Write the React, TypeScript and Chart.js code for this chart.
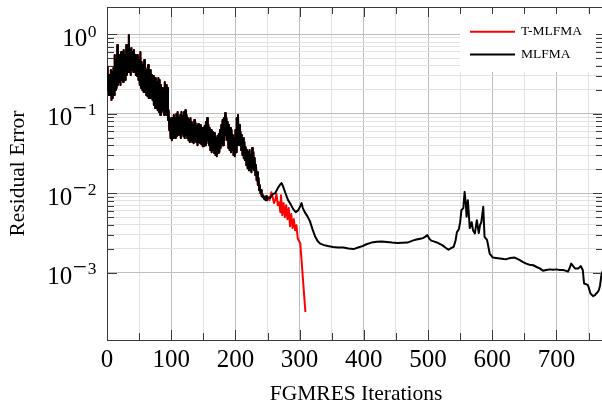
import React, { useEffect, useRef } from "react";
import { Chart, registerables } from "chart.js";

Chart.register(...registerables);

// Residual per iteration, iterations 0..249 (both solvers coincide here)
const mlfmaEarly = [
  0.388, 0.199, 0.266, 0.172, 0.307, 0.172, 0.355, 0.149, 0.335, 0.158,
  0.376, 0.172, 0.548, 0.199, 0.475, 0.211, 0.733, 0.230, 0.475, 0.251,
  0.548, 0.230, 0.598, 0.266, 0.503, 0.251, 0.634, 0.282, 0.548, 0.266,
  0.733, 0.307, 0.634, 0.335, 0.980, 0.355, 0.634, 0.307, 0.672, 0.355,
  0.598, 0.335, 0.634, 0.376, 0.548, 0.307, 0.503, 0.298, 0.548, 0.266,
  0.475, 0.230, 0.598, 0.211, 0.448, 0.199, 0.411, 0.188, 0.475, 0.188,
  0.376, 0.172, 0.355, 0.167, 0.411, 0.158, 0.335, 0.158, 0.355, 0.167,
  0.307, 0.149, 0.298, 0.129, 0.266, 0.118, 0.282, 0.129, 0.251, 0.111,
  0.282, 0.105, 0.266, 0.0963, 0.230, 0.105, 0.211, 0.111, 0.199, 0.0963,
  0.251, 0.105, 0.230, 0.0963, 0.211, 0.0833, 0.111, 0.0623, 0.0833, 0.0494,
  0.0883, 0.0466, 0.0833, 0.0494, 0.0963, 0.0539, 0.0883, 0.0494, 0.0991, 0.0524,
  0.105, 0.0539, 0.0883, 0.0588, 0.0963, 0.0494, 0.105, 0.0555, 0.0935, 0.0524,
  0.105, 0.0494, 0.111, 0.0539, 0.0963, 0.0494, 0.0883, 0.0466, 0.0833, 0.0440,
  0.0883, 0.0466, 0.0786, 0.0440, 0.0721, 0.0427, 0.0833, 0.0466, 0.0764, 0.0440,
  0.0700, 0.0403, 0.0742, 0.0440, 0.0680, 0.0427, 0.0721, 0.0415, 0.0661, 0.0391,
  0.0661, 0.0391, 0.0700, 0.0403, 0.0786, 0.0427, 0.0883, 0.0466, 0.0721, 0.0403,
  0.0661, 0.0349, 0.0623, 0.0329, 0.0588, 0.0349, 0.0539, 0.0320, 0.0571, 0.0302,
  0.0494, 0.0293, 0.0524, 0.0320, 0.0555, 0.0329, 0.0623, 0.0370, 0.0721, 0.0403,
  0.0833, 0.0403, 0.0883, 0.0466, 0.102, 0.0539, 0.0883, 0.0466, 0.0786, 0.0370,
  0.0721, 0.0349, 0.0661, 0.0329, 0.0623, 0.0349, 0.0539, 0.0302, 0.0494, 0.0293,
  0.0623, 0.0329, 0.0883, 0.0403, 0.0963, 0.0466, 0.0721, 0.0403, 0.0588, 0.0349,
  0.0539, 0.0302, 0.0494, 0.0276, 0.0440, 0.0261, 0.0380, 0.0226, 0.0349, 0.0207,
  0.0329, 0.0195, 0.0349, 0.0195, 0.0302, 0.0184, 0.0370, 0.0207, 0.0329, 0.0195,
  0.0277, 0.0169, 0.0226, 0.0146, 0.0184, 0.0127, 0.0155, 0.0109, 0.0127, 0.0100,
  0.0109, 0.00919, 0.00974, 0.00892, 0.00919, 0.00842, 0.00892, 0.00818, 0.00919, 0.00818,
];

// MLFMA, iterations 250..772
const mlfmaIter = [
  250, 254, 258, 262, 266, 270, 272, 274, 278, 282, 286, 290, 294, 298, 301, 303, 305, 308,
  312, 316, 320, 324, 328, 332, 338, 344, 352, 360, 368, 376, 384, 391, 398, 404, 412, 420,
  428, 436, 444, 452, 460, 468, 476, 482, 488, 492, 496, 499, 502, 505, 510, 516, 522, 528,
  532, 536, 540, 543, 545, 548, 550, 552, 555, 557, 559, 560, 562, 565, 568, 570, 573, 576,
  579, 581, 583, 586, 588, 592, 596, 601, 606, 612, 618, 622, 628, 635, 640, 643, 648, 653,
  658, 664, 670, 674, 679, 684, 690, 695, 700, 705, 710, 714, 718, 721, 723, 726, 729, 734,
  738, 741, 743, 746, 749, 751, 753, 757, 760, 762, 764, 766, 768, 770, 772,
];
const mlfmaRes = [
  0.00892, 0.0087, 0.00974, 0.01, 0.0116, 0.013, 0.0134, 0.0123, 0.01, 0.00818, 0.00729, 0.00631,
  0.00578, 0.00613, 0.00688, 0.00751, 0.0065, 0.00578,
  0.00515, 0.00445, 0.00353, 0.00288, 0.0025, 0.00232, 0.00222, 0.00216, 0.00211, 0.00207, 0.00207,
  0.00201, 0.00198, 0.00207, 0.00216, 0.00228, 0.00239, 0.00245,
  0.00246, 0.00243, 0.00239, 0.00236, 0.00238, 0.00239, 0.00253, 0.00261, 0.00268, 0.00272, 0.00284,
  0.00297, 0.00268, 0.00253, 0.00246, 0.00236, 0.00222, 0.00204,
  0.00195, 0.00204, 0.00212, 0.00257, 0.00323, 0.00353, 0.00432, 0.00613, 0.0065, 0.0104, 0.00708,
  0.00505, 0.00818, 0.00364, 0.00432, 0.00343, 0.00312, 0.00458,
  0.00315, 0.00396, 0.00432, 0.00674, 0.00283, 0.00257, 0.00174, 0.00155, 0.00153, 0.00151, 0.00149,
  0.00148, 0.00153, 0.00155, 0.00148, 0.00144, 0.00136, 0.0013,
  0.00126, 0.00124, 0.00117, 0.00113, 0.00106, 0.00108, 0.0011, 0.00109, 0.0011, 0.00108, 0.00108,
  0.00106, 0.00103, 0.00117, 0.0013, 0.00121, 0.00113, 0.00113,
  0.00121, 0.00108, 0.000731, 0.000716, 0.000696, 0.00062, 0.000547, 0.000506, 0.000521, 0.000547,
  0.000568, 0.000602, 0.000696, 0.00093, 0.00105,
];

// T-MLFMA, iterations 250..309
const tmlfmaIter = [
  250, 253, 256, 258, 260, 262, 264, 266, 268, 270, 271, 273, 275, 277, 279, 281, 283, 285,
  287, 289, 291, 293, 295, 297, 299, 301, 309,
];
const tmlfmaRes = [
  0.00892, 0.00818, 0.0103, 0.00892, 0.00751, 0.00818, 0.00974, 0.00708, 0.00771, 0.00578, 0.00946,
  0.0053, 0.00751, 0.005, 0.00708, 0.00472, 0.0065, 0.00385,
  0.00546, 0.00364, 0.00472, 0.00343, 0.00396, 0.00272, 0.0025, 0.00235, 0.00032,
];

const seriesLabels = ["T-MLFMA", "MLFMA"];
const seriesColors = ["#ff0000", "#000000"];
const xTickValues = [0, 50, 100, 150, 200, 250, 300, 350, 400, 450, 500, 550, 600, 650, 700, 750];
const xLabelValues = [0, 100, 200, 300, 400, 500, 600, 700];
const yExponents = [0, -1, -2, -3];
const xTitle = "FGMRES Iterations";
const yTitle = "Residual Error";

const SERIF = '"Liberation Serif", "Times New Roman", "DejaVu Serif", serif';
const f = (s: number) => `${s}px ${SERIF}`;

const yTickValues: number[] = [];
for (const e of [-3, -2, -1]) {
  for (let m = 1; m <= 9; m++) yTickValues.push(m * Math.pow(10, e));
}
yTickValues.push(1);

const isDecade = (v: number) => {
  const l = Math.log10(v);
  return Math.abs(l - Math.round(l)) < 1e-9;
};

const MAJOR_GRID = "#bdbdbd";
const MINOR_GRID = "#e2e2e2";
const AXIS = "#3a3a3a";

const pgfPlugin = {
  id: "pgfAxis",
  beforeDatasetsDraw(chart: any) {
    const { ctx, chartArea } = chart;
    const { left, right, top, bottom } = chartArea;
    const xs = chart.scales.x;
    const ys = chart.scales.y;
    ctx.save();
    ctx.strokeStyle = AXIS;
    ctx.lineWidth = 1;
    ctx.beginPath();
    for (const v of xTickValues) {
      const px = Math.round(xs.getPixelForValue(v)) + 0.5;
      const len = v % 100 === 0 ? 10 : 7;
      ctx.moveTo(px, bottom);
      ctx.lineTo(px, bottom - len);
      ctx.moveTo(px, top);
      ctx.lineTo(px, top + len);
    }
    for (const v of yTickValues) {
      const py = Math.round(ys.getPixelForValue(v)) + 0.5;
      const len = isDecade(v) ? 10 : 7;
      ctx.moveTo(left, py);
      ctx.lineTo(left + len, py);
      ctx.moveTo(right, py);
      ctx.lineTo(right - len, py);
    }
    ctx.stroke();
    ctx.strokeRect(Math.round(left) + 0.5, Math.round(top) + 0.5, Math.round(right - left), Math.round(bottom - top));
    ctx.restore();
  },
  afterDraw(chart: any) {
    const { ctx, chartArea } = chart;
    const { left, right, top, bottom } = chartArea;
    const xs = chart.scales.x;
    const ys = chart.scales.y;
    ctx.save();
    ctx.fillStyle = "#000";
    ctx.textBaseline = "alphabetic";

    // x labels
    ctx.font = f(25);
    ctx.textAlign = "center";
    for (const v of xLabelValues) {
      ctx.fillText(String(v), xs.getPixelForValue(v), bottom + 27);
    }
    // x title
    ctx.font = f(21.5);
    ctx.fillText(xTitle, (left + right) / 2 + 1, bottom + 59.5);

    // y labels 10^e
    const expRight = left - 10.5;
    for (const e of yExponents) {
      const py = ys.getPixelForValue(Math.pow(10, e));
      ctx.textAlign = "right";
      ctx.font = f(17.5);
      const digits = String(Math.abs(e));
      ctx.fillText(digits, expRight, py + (e === 0 ? 3 : 1.5));
      let cursor = expRight - ctx.measureText(digits).width;
      if (e < 0) {
        ctx.font = f(25);
        ctx.fillText("\u2212", cursor - 1, py + 2.5);
        cursor -= 1 + ctx.measureText("\u2212").width;
      }
      ctx.font = f(25);
      ctx.fillText("10", cursor - 0.5, py + 11.7);
    }

    // y title
    ctx.save();
    ctx.translate(24, (top + bottom) / 2);
    ctx.rotate(-Math.PI / 2);
    ctx.textAlign = "center";
    ctx.font = f(21.5);
    ctx.fillText(yTitle, 0, 0);
    ctx.restore();

    // legend
    const bx0 = right - 143;
    const bx1 = right - 7;
    const by0 = top + 7;
    const by1 = top + 65;
    ctx.fillStyle = "#ffffff";
    ctx.fillRect(bx0, by0, bx1 - bx0, by1 - by0);
    const rows = [top + 24.8, top + 47.5];
    seriesLabels.forEach((lab, i) => {
      ctx.strokeStyle = seriesColors[i];
      ctx.lineWidth = 2;
      ctx.beginPath();
      ctx.moveTo(bx0 + 10, rows[i]);
      ctx.lineTo(bx0 + 55, rows[i]);
      ctx.stroke();
      ctx.fillStyle = "#000";
      ctx.font = f(13.5);
      ctx.textAlign = "left";
      ctx.fillText(lab, bx0 + 61, rows[i] + 3);
    });
    ctx.restore();
  },
};

export default function App() {
  const ref = useRef<HTMLCanvasElement | null>(null);
  useEffect(() => {
    if (!ref.current) return;
    const black = mlfmaEarly
      .map((v, i) => ({ x: i, y: v }))
      .concat(mlfmaIter.map((x, i) => ({ x, y: mlfmaRes[i] })));
    const red = mlfmaEarly
      .map((v, i) => ({ x: i, y: v }))
      .concat(tmlfmaIter.map((x, i) => ({ x, y: tmlfmaRes[i] })));
    const chart = new Chart(ref.current, {
      type: "line",
      data: {
        datasets: [
          {
            label: seriesLabels[1],
            data: black,
            borderColor: seriesColors[1],
            borderWidth: 2,
            pointRadius: 0,
            tension: 0,
            borderJoinStyle: "round",
            order: 0,
          },
          {
            label: seriesLabels[0],
            data: red,
            borderColor: seriesColors[0],
            borderWidth: 2,
            pointRadius: 0,
            tension: 0,
            borderJoinStyle: "round",
            order: 1,
          },
        ],
      },
      options: {
        animation: false,
        responsive: false,
        devicePixelRatio: 1,
        events: [],
        layout: { padding: { left: 107, top: 7, right: 7, bottom: 67 } },
        plugins: { legend: { display: false }, tooltip: { enabled: false } },
        scales: {
          x: {
            type: "linear",
            min: 0,
            max: 772.5,
            ticks: { display: false },
            border: { display: false },
            grid: {
              drawTicks: false,
              lineWidth: 1,
              color: (c: any) => (c.tick && c.tick.value % 100 === 0 ? MAJOR_GRID : MINOR_GRID),
            },
            afterBuildTicks: (s: any) => {
              s.ticks = xTickValues.map((v) => ({ value: v }));
            },
          },
          y: {
            type: "logarithmic",
            min: 1.42e-4,
            max: 2.21,
            ticks: { display: false },
            border: { display: false },
            grid: {
              drawTicks: false,
              lineWidth: 1,
              color: (c: any) => (c.tick && isDecade(c.tick.value) ? MAJOR_GRID : MINOR_GRID),
            },
            afterBuildTicks: (s: any) => {
              s.ticks = yTickValues.map((v) => ({ value: v }));
            },
          },
        },
      },
      plugins: [pgfPlugin],
    });
    return () => chart.destroy();
  }, []);
  return (
    <div
      style={{
        position: "fixed",
        left: 0,
        top: 0,
        width: 602,
        height: 407,
        overflow: "hidden",
        background: "#fff",
      }}
    >
      <canvas ref={ref} width={610} height={407} style={{ display: "block" }} />
    </div>
  );
}
